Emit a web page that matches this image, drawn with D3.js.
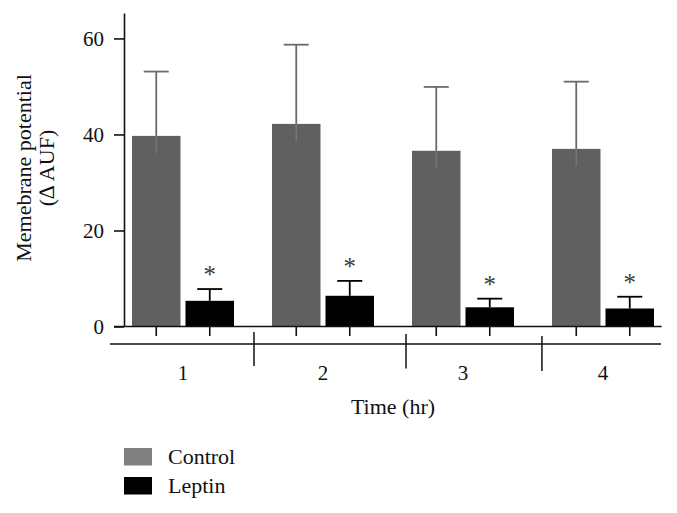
<!DOCTYPE html>
<html>
<head>
<meta charset="utf-8">
<script src="https://cdn.jsdelivr.net/npm/d3@7"></script>
<style>
  html, body { margin: 0; padding: 0; background: #fff; }
  svg { display: block; }
  text { font-family: "Liberation Serif", "Times New Roman", serif; fill: #111; }
</style>
</head>
<body>
<svg id="chart" width="677" height="513"></svg>
<script>
// ---- data ----
const groups = ["1", "2", "3", "4"];
const seriesNames = ["Control", "Leptin"];
const controlMean = [39.7, 42.2, 36.6, 37.0];
const controlSE   = [13.4, 16.5, 13.3, 14.0];
const leptinMean  = [5.35, 6.4, 4.0, 3.75];
const leptinSE    = [2.45, 3.1, 1.8, 2.45];
const leptinSignificant = [true, true, true, true];
const yTicks = [0, 20, 40, 60];
const yMax = 65.3;
const separators = [1.507, 2.593, 3.564]; // group-index positions of the divider marks
const yLabelLines = ["Memebrane potential", "(\u2206 AUF)"];
const xLabel = "Time (hr)";

// ---- styles ----
const barColors = { Control: "#606060", Leptin: "#000000" };
const legendColors = { Control: "#808080", Leptin: "#000000" };
const errColors = { Control: "#6a6a6a", Leptin: "#000000" };

const svg = d3.select("#chart");

const x0 = d3.scaleBand().domain(groups).range([113, 673])
  .paddingInner(0.2714).paddingOuter(0.1357);
const x1 = d3.scaleBand().domain(seriesNames).range([0, x0.bandwidth()])
  .paddingInner(0.0935);
const y = d3.scaleLinear().domain([0, yMax]).range([326.5, 13]);
// group index -> group centre
const xIdx = d3.scaleLinear().domain([1, 2])
  .range([x0("1") + x0.bandwidth() / 2, x0("2") + x0.bandwidth() / 2]);

const rows = groups.map((g, i) => ({
  g,
  vals: [
    { s: "Control", m: controlMean[i], e: controlSE[i], sig: false },
    { s: "Leptin", m: leptinMean[i], e: leptinSE[i], sig: leptinSignificant[i] }
  ]
}));

// bars
const gGroups = svg.append("g").selectAll("g").data(rows).join("g")
  .attr("transform", d => `translate(${x0(d.g)},0)`);

gGroups.selectAll("rect").data(d => d.vals).join("rect")
  .attr("x", d => x1(d.s))
  .attr("y", d => y(d.m))
  .attr("width", x1.bandwidth())
  .attr("height", d => y(0) - y(d.m))
  .attr("fill", d => barColors[d.s]);

// error bars
const capHalf = 12.5;
gGroups.each(function (d) {
  const g = d3.select(this);
  d.vals.forEach(v => {
    const cx = x1(v.s) + x1.bandwidth() / 2;
    const top = y(v.m + v.e);
    g.append("line").attr("x1", cx).attr("x2", cx)
      .attr("y1", y(v.m)).attr("y2", top)
      .attr("stroke", errColors[v.s]).attr("stroke-width", 1.8);
    g.append("line").attr("x1", cx - capHalf).attr("x2", cx + capHalf)
      .attr("y1", top).attr("y2", top)
      .attr("stroke", errColors[v.s]).attr("stroke-width", 1.8);
    if (v.s === "Control") {
      g.append("line").attr("x1", cx).attr("x2", cx)
        .attr("y1", y(v.m)).attr("y2", y(v.m) + 17)
        .attr("stroke", "#767676").attr("stroke-width", 1.5);
    }
    if (v.sig) {
      g.append("text").attr("x", cx).attr("y", top - 6)
        .attr("text-anchor", "middle")
        .style("font-size", "25px").style("fill", "#3a3a3a")
        .text("*");
    }
  });
});

// y axis
const yAxis = svg.append("g").attr("transform", "translate(124,0)")
  .call(d3.axisLeft(y).tickValues(yTicks).tickSize(10).tickSizeOuter(0).tickPadding(10)
    .tickFormat(d3.format("d")));
yAxis.select(".domain").attr("stroke", "#111").attr("stroke-width", 1.6);
yAxis.selectAll(".tick line").attr("stroke", "#111").attr("stroke-width", 1.6);
yAxis.selectAll(".tick text").style("font-size", "21px").style("font-family", "Liberation Serif, serif")
  .attr("fill", "#111");

// x axis baseline
svg.append("line").attr("x1", 114).attr("x2", 661.7)
  .attr("y1", y(0)).attr("y2", y(0)).attr("stroke", "#111").attr("stroke-width", 1.6);

// bar tick marks
gGroups.selectAll("line.bt").data(d => d.vals).join("line").attr("class", "bt")
  .attr("x1", d => x1(d.s) + x1.bandwidth() / 2)
  .attr("x2", d => x1(d.s) + x1.bandwidth() / 2)
  .attr("y1", y(0)).attr("y2", y(0) + 9.5)
  .attr("stroke", "#111").attr("stroke-width", 1.6);

// second (grouping) line
svg.append("line").attr("x1", 110).attr("x2", 661)
  .attr("y1", 344).attr("y2", 344).attr("stroke", "#111").attr("stroke-width", 1.5);
svg.selectAll("line.sep").data(separators).join("line").attr("class", "sep")
  .attr("x1", d => xIdx(d)).attr("x2", d => xIdx(d))
  .attr("y1", (d, i) => 332 + i * 2).attr("y2", (d, i) => 366 + i * 2.5)
  .attr("stroke", "#111").attr("stroke-width", 1.5);

// group labels
svg.selectAll("text.glab").data(groups).join("text").attr("class", "glab")
  .attr("x", d => x0(d) + x0.bandwidth() / 2)
  .attr("y", 380)
  .attr("text-anchor", "middle")
  .style("font-size", "21px")
  .text(d => d);

// x title
svg.append("text").attr("x", 393).attr("y", 414).attr("text-anchor", "middle")
  .style("font-size", "22px").text(xLabel);

// y title
svg.selectAll("text.ylab").data(yLabelLines).join("text").attr("class", "ylab")
  .attr("transform", (d, i) => `translate(${i === 0 ? 31 : 54},168) rotate(-90)`)
  .attr("text-anchor", "middle")
  .style("font-size", "22px")
  .text(d => d);

// legend
const legend = svg.append("g").selectAll("g").data(seriesNames).join("g")
  .attr("transform", (d, i) => `translate(124,${i === 0 ? 448 : 477})`);
legend.append("rect").attr("width", 28).attr("height", 17.5)
  .attr("fill", d => legendColors[d]);
legend.append("text").attr("x", 44).attr("y", 15.5)
  .style("font-size", "22px").text(d => d);
</script>
</body>
</html>
